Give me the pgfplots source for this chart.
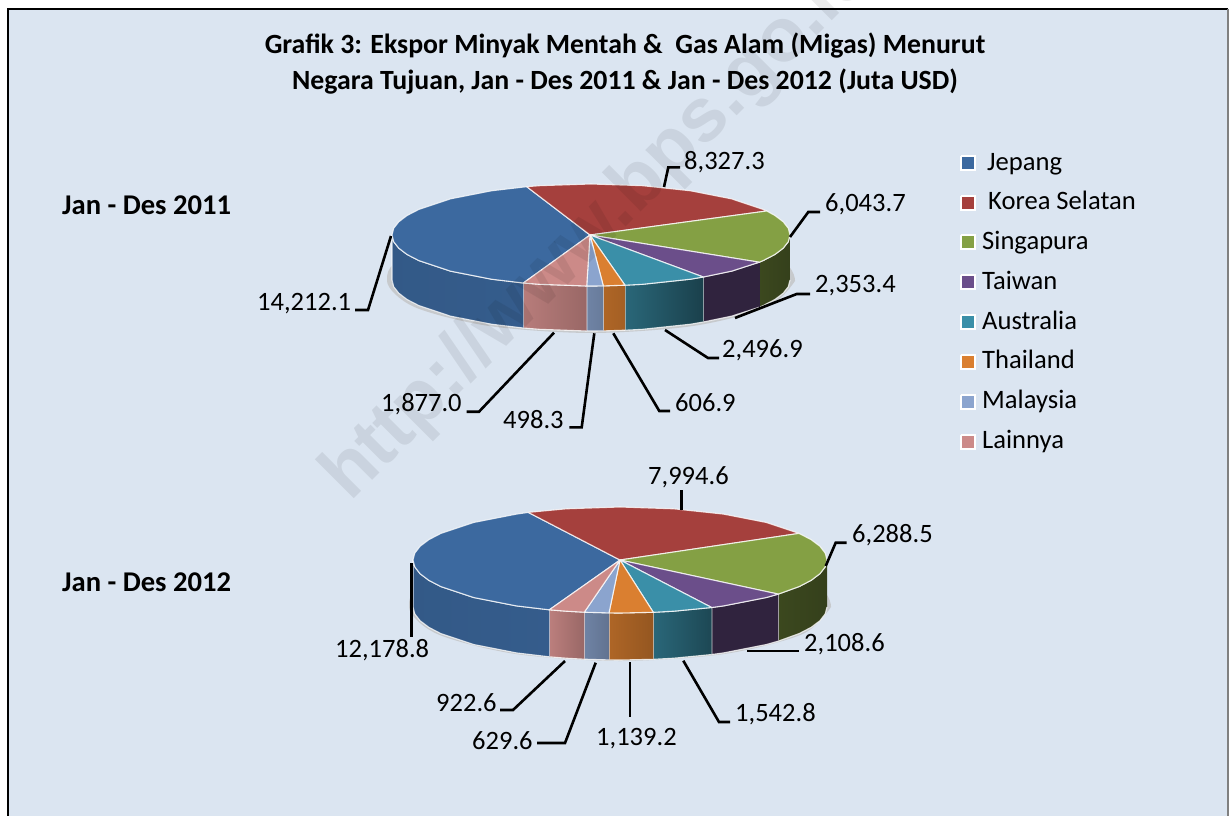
\documentclass[border=0pt]{standalone}
\usepackage{pgfplots}
\pgfplotsset{compat=1.18}
\usepackage{fontspec}
\setmainfont{Carlito}
\newfontfamily\wmfont{Liberation Sans}
\definecolor{bgc}{HTML}{DBE5F1}
\definecolor{cJ}{HTML}{3C699F}
\definecolor{cK}{HTML}{A5403D}
\definecolor{cS}{HTML}{84A044}
\definecolor{cT}{HTML}{6B4E8A}
\definecolor{cA}{HTML}{3A8FA8}
\definecolor{cH}{HTML}{DA7F30}
\definecolor{cM}{HTML}{8BA4CE}
\definecolor{cL}{HTML}{CC8A88}
\newcommand{\lab}[3]{\node[anchor=west,inner sep=0pt,font=\fontsize{26.5}{30}\selectfont] at (axis cs:#1,#2) {#3};}
\newcommand{\leg}[3]{\node[anchor=base west,inner sep=0pt,font=\fontsize{26.6}{30}\selectfont] at (axis cs:#1,#2) {#3};}
\tikzset{wedge/.style={draw=white,draw opacity=.78,line width=1.1pt,line join=round},
leader/.style={black,line width=2.6pt,line join=miter}}
\begin{document}
\begin{tikzpicture}
\begin{axis}[scale only axis,width=1229pt,height=816pt,xmin=0,xmax=1229,ymin=0,ymax=816,y dir=reverse,hide axis,clip=true]
% page and frame
\addplot[fill=white,draw=none] coordinates {(0,0)(1229,0)(1229,816)(0,816)};
\addplot[fill=bgc,draw=none] coordinates {(8,9)(1228,9)(1228,816)(8,816)};
\addplot[black,line width=2pt] coordinates {(8,816)(8,9)(1228,9)};
\addplot[gray,line width=1.5pt] coordinates {(1228,9)(1228,816)};
% shadows
\addplot[fill=black!25,draw=none,smooth,opacity=.7] coordinates {(795,281)(767.7,307)(693,326)(591,333)(489,326)(414.3,307)(387,281)(414.3,255)(591,229)(767.7,255)(795,281)};
\addplot[fill=black!25,draw=none,smooth,opacity=.7] coordinates {(831,607)(802.7,634)(725.5,653.8)(620,661)(514.5,653.8)(437.3,634)(409,607)(437.3,580)(620,553)(802.7,580)(831,607)};
% pie 1 sides
\addplot[wedge,left color=cS!45!black,right color=cS!40!black] coordinates {(790,235)(788.3,241.7)(783.2,248.2)(774.9,254.5)(763.3,260.5)(759.3,262.2)(759.3,307.2)(763.3,305.5)(774.9,299.5)(783.2,293.2)(788.3,286.7)(790,280)};
\addplot[wedge,left color=cT!45!black,right color=cT!45!black] coordinates {(759.3,262.2)(731.7,271.1)(703.3,277)(703.3,322)(731.7,316.1)(759.3,307.2)};
\addplot[wedge,left color=cA!72!black,right color=cA!45!black] coordinates {(703.3,277)(690.5,279.2)(642.5,284.3)(625,285.2)(625,330.2)(642.5,329.3)(690.5,324.2)(703.3,322)};
\addplot[wedge,left color=cH!80!black,right color=cH!75!black] coordinates {(625,285.2)(603.3,285.9)(603.3,330.9)(625,330.2)};
\addplot[wedge,left color=cM!80!black,right color=cM!75!black] coordinates {(603.3,285.9)(591,286)(586.7,286)(586.7,331)(591,331)(603.3,330.9)};
\addplot[wedge,left color=cL!90!black,right color=cL!75!black] coordinates {(586.7,286)(539.5,284.3)(523.3,283)(523.3,328)(539.5,329.3)(586.7,331)};
\addplot[wedge,left color=cJ!85!black,middle color=cJ,right color=cJ!88!black] coordinates {(523.3,283)(491.5,279.2)(450.3,271.1)(418.7,260.5)(407.1,254.5)(398.8,248.2)(393.7,241.7)(392,235)(392,280)(393.7,286.7)(398.8,293.2)(407.1,299.5)(418.7,305.5)(450.3,316.1)(491.5,324.2)(523.3,328)};
% pie 1 top
\addplot[wedge,fill=cJ] coordinates {(590,235)(523.3,283)(491.5,279.2)(450.3,271.1)(418.7,260.5)(407.1,254.5)(398.8,248.2)(393.7,241.7)(392,235)(393.7,228.3)(398.8,221.8)(407.1,215.5)(418.7,209.5)(450.3,198.9)(491.5,190.8)(526.7,186.7)(590,235)};
\addplot[wedge,fill=cK] coordinates {(590,235)(526.7,186.7)(539.5,185.7)(591,184)(642.5,185.7)(690.5,190.8)(731.7,198.9)(763.3,209.5)(766.7,211)(590,235)};
\addplot[wedge,fill=cS] coordinates {(590,235)(766.7,211)(774.9,215.5)(783.2,221.8)(788.3,228.3)(790,235)(788.3,241.7)(783.2,248.2)(774.9,254.5)(763.3,260.5)(759.3,262.2)(590,235)};
\addplot[wedge,fill=cT] coordinates {(590,235)(759.3,262.2)(731.7,271.1)(703.3,277)(590,235)};
\addplot[wedge,fill=cA] coordinates {(590,235)(703.3,277)(690.5,279.2)(642.5,284.3)(625,285.2)(590,235)};
\addplot[wedge,fill=cH] coordinates {(590,235)(625,285.2)(603.3,285.9)(590,235)};
\addplot[wedge,fill=cM] coordinates {(590,235)(603.3,285.9)(591,286)(586.7,286)(590,235)};
\addplot[wedge,fill=cL] coordinates {(590,235)(586.7,286)(539.5,284.3)(523.3,283)(590,235)};
% pie 2 sides
\addplot[wedge,left color=cS!45!black,right color=cS!40!black] coordinates {(827,560)(825.2,566.9)(819.9,573.7)(811.2,580.3)(799.3,586.5)(778.3,594.1)(778.3,641.1)(799.3,633.5)(811.2,627.3)(819.9,620.7)(825.2,613.9)(827,607)};
\addplot[wedge,left color=cT!45!black,right color=cT!45!black] coordinates {(778.3,594.1)(766.4,597.5)(723.5,605.9)(711.7,607.5)(711.7,654.5)(723.5,652.9)(766.4,644.5)(778.3,641.1)};
\addplot[wedge,left color=cA!72!black,right color=cA!50!black] coordinates {(711.7,607.5)(673.6,611.2)(653.3,612.3)(653.3,659.3)(673.6,658.2)(711.7,654.5)};
\addplot[wedge,left color=cH!80!black,right color=cH!68!black] coordinates {(653.3,612.3)(620,613)(609,612.9)(609,659.9)(620,660)(653.3,659.3)};
\addplot[wedge,left color=cM!80!black,right color=cM!70!black] coordinates {(609,612.9)(584.3,612.2)(584.3,659.2)(609,659.9)};
\addplot[wedge,left color=cL!92!black,right color=cL!75!black] coordinates {(584.3,612.2)(566.4,611.2)(549.3,609.8)(549.3,656.8)(566.4,658.2)(584.3,659.2)};
\addplot[wedge,left color=cJ!85!black,middle color=cJ,right color=cJ!88!black] coordinates {(549.3,609.8)(516.5,605.9)(473.6,597.5)(440.7,586.5)(428.8,580.3)(420.1,573.7)(414.8,566.9)(413,560)(413,607)(414.8,613.9)(420.1,620.7)(428.8,627.3)(440.7,633.5)(473.6,644.5)(516.5,652.9)(549.3,656.8)};
% pie 2 top
\addplot[wedge,fill=cJ] coordinates {(620,560)(549.3,609.8)(516.5,605.9)(473.6,597.5)(440.7,586.5)(428.8,580.3)(420.1,573.7)(414.8,566.9)(413,560)(414.8,553.1)(420.1,546.3)(428.8,539.7)(440.7,533.5)(473.6,522.5)(516.5,514.1)(528.3,512.4)(620,560)};
\addplot[wedge,fill=cK] coordinates {(620,560)(528.3,512.4)(566.4,508.8)(620,507)(673.6,508.8)(723.5,514.1)(766.4,522.5)(799,533.4)(620,560)};
\addplot[wedge,fill=cS] coordinates {(620,560)(799,533.4)(811.2,539.7)(819.9,546.3)(825.2,553.1)(827,560)(825.2,566.9)(819.9,573.7)(811.2,580.3)(799.3,586.5)(778.3,594.1)(620,560)};
\addplot[wedge,fill=cT] coordinates {(620,560)(778.3,594.1)(766.4,597.5)(723.5,605.9)(711.7,607.5)(620,560)};
\addplot[wedge,fill=cA] coordinates {(620,560)(711.7,607.5)(673.6,611.2)(653.3,612.3)(620,560)};
\addplot[wedge,fill=cH] coordinates {(620,560)(653.3,612.3)(620,613)(609,612.9)(620,560)};
\addplot[wedge,fill=cM] coordinates {(620,560)(609,612.9)(584.3,612.2)(620,560)};
\addplot[wedge,fill=cL] coordinates {(620,560)(584.3,612.2)(566.4,611.2)(549.3,609.8)(620,560)};
% watermark
\node[overlay,anchor=base west,rotate=45,inner sep=0pt,opacity=.075,font=\fontsize{76}{90}\selectfont\wmfont\bfseries] at (axis cs:350,503) {http://www.bps.go.id};
% leaders pie 1
\addplot[leader] coordinates {(391,236)(368,310)(355,310)};
\addplot[leader] coordinates {(664,187)(668.3,167.3)(680,167.3)};
\addplot[leader] coordinates {(790,237)(808.3,212)(820,212)};
\addplot[leader] coordinates {(735,318)(796.7,294)(810,294)};
\addplot[leader] coordinates {(665,330)(708,358)(719,358)};
\addplot[leader] coordinates {(613.3,333.3)(659.3,411)(670,411)};
\addplot[leader] coordinates {(594.3,333.3)(581.7,427.3)(569.3,427.3)};
\addplot[leader] coordinates {(554,332.7)(479,411.7)(466.7,411.7)};
% leaders pie 2
\addplot[leader] coordinates {(411.7,563.3)(411.7,637.3)};
\addplot[leader] coordinates {(681.7,490)(681.7,510)};
\addplot[leader] coordinates {(825.7,566)(835.7,542.7)(846.7,542.7)};
\addplot[leader] coordinates {(747.3,651)(799,651)};
\addplot[leader] coordinates {(683.3,660.7)(719,722)(730,722)};
\addplot[leader] coordinates {(630,662)(630,717)};
\addplot[leader] coordinates {(595.7,662.7)(565,743)(537,743)};
\addplot[leader] coordinates {(565,661)(513,710)(500,710)};
% legend swatches
\addplot[fill=cJ,draw=white,line width=1.3pt] coordinates {(961,156)(975,156)(975,170)(961,170)(961,156)};
\addplot[fill=cK,draw=white,line width=1.3pt] coordinates {(961,196)(975,196)(975,210)(961,210)(961,196)};
\addplot[fill=cS,draw=white,line width=1.3pt] coordinates {(961,235)(975,235)(975,249)(961,249)(961,235)};
\addplot[fill=cT,draw=white,line width=1.3pt] coordinates {(961,275)(975,275)(975,289)(961,289)(961,275)};
\addplot[fill=cA,draw=white,line width=1.3pt] coordinates {(961,315)(975,315)(975,329)(961,329)(961,315)};
\addplot[fill=cH,draw=white,line width=1.3pt] coordinates {(961,355)(975,355)(975,369)(961,369)(961,355)};
\addplot[fill=cM,draw=white,line width=1.3pt] coordinates {(961,395)(975,395)(975,409)(961,409)(961,395)};
\addplot[fill=cL,draw=white,line width=1.3pt] coordinates {(961,435)(975,435)(975,449)(961,449)(961,435)};
% text
\node[align=center,font=\fontsize{27.8}{36}\selectfont\bfseries,inner sep=0pt] at (axis cs:625,64) {Grafik 3: Ekspor Minyak Mentah \&\ \ Gas Alam (Migas) Menurut\\Negara Tujuan, Jan - Des 2011 \& Jan - Des 2012 (Juta USD)};
\node[anchor=west,inner sep=0pt,font=\fontsize{28.6}{30}\selectfont\bfseries] at (axis cs:62,205) {Jan - Des 2011};
\node[anchor=west,inner sep=0pt,font=\fontsize{28.6}{30}\selectfont\bfseries] at (axis cs:62,582) {Jan - Des 2012};
\leg{987}{170}{Jepang}
\leg{988}{209.5}{Korea Selatan}
\leg{982}{249.5}{Singapura}
\leg{982}{289.5}{Taiwan}
\leg{982}{329.5}{Australia}
\leg{982}{368.5}{Thailand}
\leg{982}{408.5}{Malaysia}
\leg{982}{448.5}{Lainnya}
\lab{684}{162}{8,327.3}
\lab{825}{204}{6,043.7}
\lab{815}{286}{2,353.4}
\lab{722}{350}{2,496.9}
\lab{675}{403}{606.9}
\lab{503}{420}{498.3}
\lab{381}{404}{1,877.0}
\lab{257}{304}{14,212.1}
\lab{648}{477}{7,994.6}
\lab{852}{535}{6,288.5}
\lab{804}{644}{2,108.6}
\lab{735}{714}{1,542.8}
\lab{596}{739}{1,139.2}
\lab{472}{741}{629.6}
\lab{436}{703}{922.6}
\lab{335}{650}{12,178.8}
\end{axis}
\end{tikzpicture}
\end{document}
